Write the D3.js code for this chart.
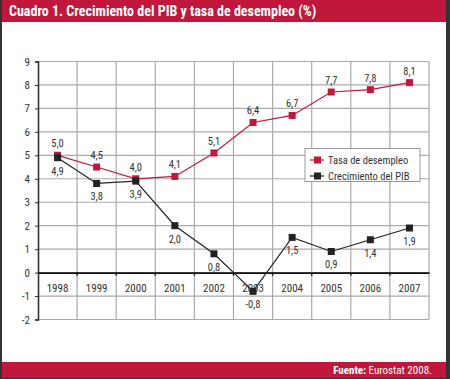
<!DOCTYPE html>
<html>
<head>
<meta charset="utf-8">
<script src="https://cdn.jsdelivr.net/npm/d3@7"></script>
<style>
  body { margin: 0; background: #333; }
  svg { display: block; }
  text { font-family: "Liberation Sans Narrow", "Roboto Condensed", "Arial Narrow", sans-serif; }
</style>
</head>
<body>
<script>
// data
const years = ["1998","1999","2000","2001","2002","2003","2004","2005","2006","2007"]
const desempleo = [5.0, 4.5, 4.0, 4.1, 5.1, 6.4, 6.7, 7.7, 7.8, 8.1]
const pib = [4.9, 3.8, 3.9, 2.0, 0.8, -0.8, 1.5, 0.9, 1.4, 1.9]
const yTicks = [-2, -1, 0, 1, 2, 3, 4, 5, 6, 7, 8, 9]

const w = 450
const h = 379
const red = "#c0173a"
const dark = "#222"

const svg = d3.select("body")
              .append("svg")
              .attr("width", w)
              .attr("height", h)

// frame
svg.append("rect").attr("width", w).attr("height", h).attr("fill", "#333")
svg.append("rect").attr("x", 2).attr("y", 0).attr("width", 444).attr("height", 378).attr("fill", "#fff")
svg.append("rect").attr("x", 2).attr("y", 0).attr("width", 444).attr("height", 22).attr("fill", red)
svg.append("rect").attr("x", 2).attr("y", 362).attr("width", 444).attr("height", 16).attr("fill", red)

svg.append("text")
   .attr("x", 9).attr("y", 16)
   .attr("fill", "#fff")
   .attr("font-size", 14)
   .attr("font-weight", "bold")
   .text("Cuadro 1. Crecimiento del PIB y tasa de desempleo (%)")

const src = svg.append("text")
   .attr("x", 432).attr("y", 374)
   .attr("text-anchor", "end")
   .attr("fill", "#fff")
   .attr("font-size", 11)
src.append("tspan").attr("font-weight", "bold").text("Fuente:")
src.append("tspan").text(" Eurostat 2008.")

// scales
const xScale = d3.scaleBand()
                 .domain(years)
                 .range([38, 429])
const yScale = d3.scaleLinear()
                 .domain([-2, 9])
                 .range([319.5, 61.5])

// grid
const grid = svg.append("g")
grid.selectAll(".hg")
    .data(yTicks)
    .enter()
    .append("line")
    .attr("x1", 38).attr("x2", 429)
    .attr("y1", d => yScale(d)).attr("y2", d => yScale(d))
    .attr("stroke", "#aaa")
    .attr("stroke-width", 1.2)
grid.selectAll(".vg")
    .data(years.slice(1).concat(["end"]))
    .enter()
    .append("line")
    .attr("x1", (d, i) => i < years.length - 1 ? xScale(d) : 429)
    .attr("x2", (d, i) => i < years.length - 1 ? xScale(d) : 429)
    .attr("y1", yScale(9)).attr("y2", yScale(-2))
    .attr("stroke", "#aaa")
    .attr("stroke-width", 1.2)

// y axis
const yAxis = d3.axisLeft(yScale)
                .tickValues(yTicks)
                .tickSize(3)
                .tickFormat(d => d)
const gy = svg.append("g")
              .attr("transform", "translate(38,0)")
              .call(yAxis)
gy.select(".domain").attr("stroke", "#333").attr("stroke-width", 1.6)
gy.selectAll(".tick line").attr("stroke", "#333")
gy.selectAll(".tick text")
  .attr("x", -8)
  .attr("fill", "#333")
  .attr("font-size", 11)
  .attr("font-family", "Liberation Sans Narrow, sans-serif")

// x axis on zero line
const xAxis = d3.axisBottom(xScale)
                .tickSize(0)
                .tickPadding(12)
const gx = svg.append("g")
              .attr("transform", "translate(0," + yScale(0) + ")")
              .call(xAxis)
gx.select(".domain").attr("stroke", "#111").attr("stroke-width", 1.8)
gx.selectAll(".tick text")
  .attr("fill", "#333")
  .attr("font-size", 11)
  .attr("font-family", "Liberation Sans Narrow, sans-serif")
gx.selectAll(".edge")
  .data(years.slice(1))
  .enter()
  .append("line")
  .attr("x1", d => xScale(d)).attr("x2", d => xScale(d))
  .attr("y1", 0).attr("y2", 3)
  .attr("stroke", "#111")
  .attr("stroke-width", 1.5)

// lines
const cx = d => xScale(d) + xScale.bandwidth() / 2
function drawSeries(values, color, above) {
  const line = d3.line()
                 .x((d, i) => cx(years[i]))
                 .y(d => yScale(d))
  svg.append("path")
     .datum(values)
     .attr("d", line)
     .attr("fill", "none")
     .attr("stroke", color)
     .attr("stroke-width", 1.2)
  svg.selectAll(null)
     .data(values)
     .enter()
     .append("rect")
     .attr("x", (d, i) => cx(years[i]) - 3.5)
     .attr("y", d => yScale(d) - 3.5)
     .attr("width", 7).attr("height", 7)
     .attr("fill", color)
  svg.selectAll(null)
     .data(values)
     .enter()
     .append("text")
     .attr("x", (d, i) => cx(years[i]))
     .attr("y", d => above ? yScale(d) - 8 : yScale(d) + 17)
     .attr("text-anchor", "middle")
     .attr("fill", "#333")
     .attr("font-size", 10.5)
     .text(d => d.toFixed(1).replace(".", ","))
}
drawSeries(desempleo, red, true)
drawSeries(pib, dark, false)

// legend
const lg = svg.append("g")
lg.append("rect")
  .attr("x", 305).attr("y", 148.5)
  .attr("width", 115).attr("height", 33)
  .attr("fill", "#fff")
  .attr("stroke", "#999")
const items = [["Tasa de desempleo", red], ["Crecimiento del PIB", dark]]
items.forEach((it, i) => {
  const y = 160 + i * 16
  lg.append("line").attr("x1", 310).attr("x2", 324).attr("y1", y).attr("y2", y)
    .attr("stroke", it[1]).attr("stroke-width", 1.2)
  lg.append("rect").attr("x", 314).attr("y", y - 3.5).attr("width", 7).attr("height", 7).attr("fill", it[1])
  lg.append("text").attr("x", 328).attr("y", y + 4)
    .attr("fill", "#333").attr("font-size", 10.5).text(it[0])
})
</script>
</body>
</html>
